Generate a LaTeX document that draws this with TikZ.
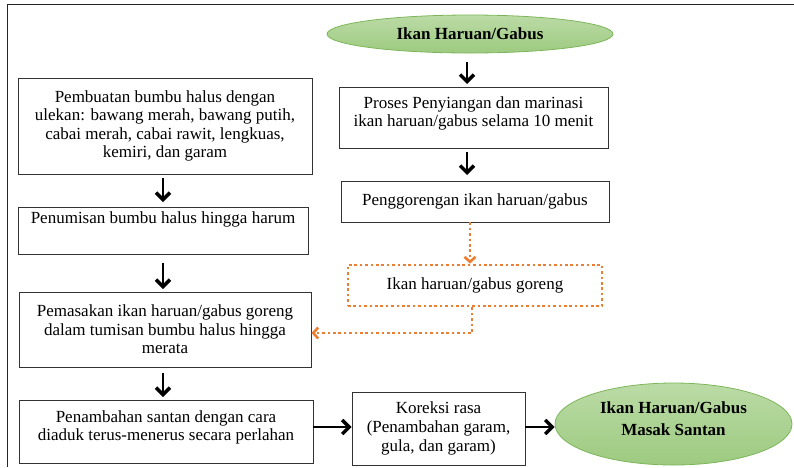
\documentclass[tikz,border=0pt]{standalone}
\usepackage{fontspec}
\setmainfont{Liberation Serif}
\usetikzlibrary{arrows.meta,shapes.geometric}
\definecolor{leaftop}{HTML}{BBDBA6}
\definecolor{leafbot}{HTML}{9DCA80}
\definecolor{leafline}{HTML}{7DB65A}
\definecolor{fryorange}{HTML}{ED7D31}
\tikzset{
  stepbox/.style={draw=black!80, line width=0.9pt, rectangle, align=center,
    inner sep=3pt, font=\fontsize{17}{18.6}\selectfont},
  endcap/.style={ellipse, draw=leafline, line width=0.8pt,
    top color=leaftop, bottom color=leafbot, align=center, inner sep=0pt,
    font=\bfseries\fontsize{17}{22}\selectfont},
  flow/.style={line width=2.6pt, -{Straight Barb[length=7pt,width=14pt,line width=3.4pt]}},
  fryflow/.style={fryorange, line width=2.8pt, dash pattern=on 2.6pt off 2.8pt,
    -{Straight Barb[length=5pt,width=11pt,line width=2.6pt]}},
  frybox/.style={stepbox, draw=fryorange, line width=2.8pt, dash pattern=on 2.6pt off 2.8pt},
}
\begin{document}
\begin{tikzpicture}[x=1pt,y=-1pt]
  \useasboundingbox (0,0) rectangle (794,467);
  % page frame
  \draw[line width=1pt, black!85] (7,467) -- (7,4) -- (794,4);

  % fish branch (right column)
  \node[endcap, minimum width=286pt, minimum height=38pt] (fish) at (470,34) {Ikan Haruan/Gabus};
  \node[stepbox, minimum width=269pt, minimum height=61pt, text depth=12pt] (clean) at (473.5,117.5)
    {Proses Penyiangan dan marinasi\\ikan haruan/gabus selama 10 menit};
  \node[stepbox, minimum width=268pt, minimum height=41pt] (fry) at (475,201.5)
    {Penggorengan ikan haruan/gabus};
  \node[frybox, minimum width=254pt, minimum height=41pt] (fried) at (475,285.5)
    {Ikan haruan/gabus goreng};
  \coordinate (bend) at (472,333);

  % spice branch (left column)
  \node[stepbox, minimum width=294pt, minimum height=96pt] (paste) at (165,126)
    {Pembuatan bumbu halus dengan\\ulekan: bawang merah, bawang putih,\\cabai merah, cabai rawit, lengkuas,\\kemiri, dan garam};
  \node[stepbox, minimum width=290pt, minimum height=47pt, text depth=26pt] (saute) at (163,230.5)
    {Penumisan bumbu halus hingga harum};
  \node[stepbox, minimum width=292pt, minimum height=75pt] (simmer) at (165,329.5)
    {Pemasakan ikan haruan/gabus goreng\\dalam tumisan bumbu halus hingga\\merata};
  \node[stepbox, minimum width=294pt, minimum height=63pt, text depth=12pt] (coco) at (166,431.5)
    {Penambahan santan dengan cara\\diaduk terus-menerus secara perlahan};
  \node[stepbox, minimum width=173pt, minimum height=73pt] (taste) at (438.5,428.5)
    {Koreksi rasa\\(Penambahan garam,\\gula, dan garam)};
  \node[endcap, minimum width=237pt, minimum height=82pt, text depth=10pt] (dish) at (673.5,424)
    {Ikan Haruan/Gabus\\Masak Santan};

  % connectors
  \draw[flow] (467,62) -- (467,84);
  \draw[flow] (467,152) -- (467,175);
  \draw[fryflow] (fry.south -| 470,0) -- (fried.north -| 470,0);
  \draw[fryflow] (fried.south -| bend) -- (bend) -- (simmer.east |- bend);
  \draw[flow] (163,178) -- (163,202);
  \draw[flow] (163,263) -- (163,289);
  \draw[flow] (163,373) -- (163,397);
  \draw[flow] (coco.east |- 0,427) -- (taste.west |- 0,427);
  \draw[flow] (taste.east |- 0,427) -- (dish.west |- 0,427);
\end{tikzpicture}
\end{document}
